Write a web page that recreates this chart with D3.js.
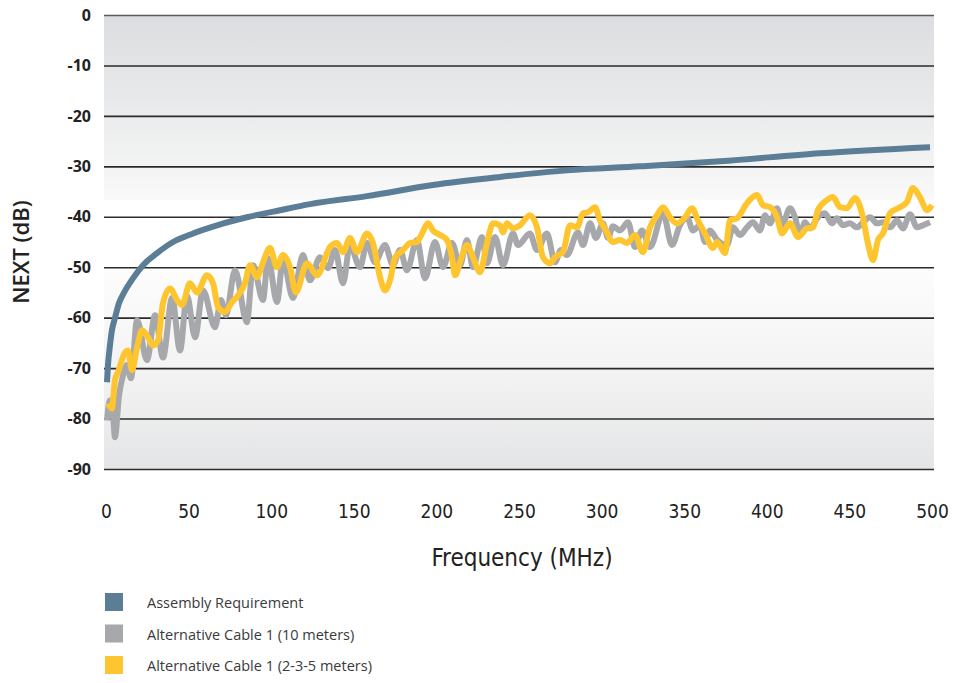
<!DOCTYPE html>
<html>
<head>
<meta charset="utf-8">
<script src="https://cdn.jsdelivr.net/npm/d3@7/dist/d3.min.js"></script>
<style>
  html, body { margin: 0; padding: 0; background: #ffffff; }
  svg { display: block; }
</style>
</head>
<body>
<svg id="chart" width="969" height="683"></svg>
<script>
// Axis ticks
const xTicks = [0, 50, 100, 150, 200, 250, 300, 350, 400, 450, 500];
const yTicks = [0, -10, -20, -30, -40, -50, -60, -70, -80, -90];

// Series names (legend order)
const seriesNames = [
  "Assembly Requirement",
  "Alternative Cable 1 (10 meters)",
  "Alternative Cable 1 (2-3-5 meters)"
];

// Assembly requirement limit (MHz, dB)
const reqFreq = [0.6, 1.2, 2.4, 3.6, 5.4, 7.9, 10.3, 16.3, 22.4, 30.9, 40.6, 52.7, 67.2, 85.3,
  105.3, 123.5, 158.0, 197.9, 238.5, 279.0, 323.2, 371.7, 432.2, 498.8];
const reqNext = [-72.8, -69.4, -65.5, -62.5, -60.1, -57.1, -55.4, -52.2, -49.6, -47.2, -45.0, -43.3, -41.7, -40.1,
  -38.7, -37.5, -35.9, -33.7, -32.1, -30.8, -30.0, -29.0, -27.4, -26.2];

// Alternative cable 1, 10 m
const cable10Freq = [0.6, 2.4, 4.2, 5.4, 7.9, 10.3, 12.7, 15.1, 18.8, 24.8, 29.7, 34.5, 40.0, 44.8, 49.0, 53.9,
  58.7, 66.0, 69.6, 72.6, 78.1, 85.3, 89.0, 95.0, 98.1, 103.5, 107.1, 113.2, 119.2, 123.5, 129.5, 134.4,
  138.6, 143.5, 147.7, 153.7, 158.0, 162.8, 168.9, 173.7, 178.0, 182.2, 188.2, 193.1, 199.1, 204.0, 209.4,
  214.3, 218.5, 222.1, 227.6, 230.6, 235.5, 240.3, 246.4, 249.4, 256.6, 260.9, 266.9, 271.8, 275.4, 279.0,
  285.7, 288.7, 293.0, 296.6, 300.8, 303.9, 306.9, 311.1, 316.0, 320.2, 324.4, 329.3, 337.2, 342.6, 347.4,
  351.7, 355.3, 359.5, 362.6, 365.6, 369.9, 375.9, 379.5, 383.8, 388.0, 391.6, 395.9, 398.9, 401.9, 406.2,
  409.2, 414.0, 417.1, 420.1, 423.1, 426.1, 430.9, 435.2, 439.4, 442.4, 446.1, 450.3, 454.6, 458.2, 462.5,
  466.7, 470.3, 474.6, 478.8, 482.4, 486.7, 490.9, 494.5, 498.8];
const cable10Next = [-80.4, -76.4, -78.8, -83.7, -75.4, -71.4, -69.4, -72.0, -60.5, -68.4, -59.5, -67.9, -56.1, -66.5, -55.6, -63.9,
  -54.6, -61.9, -56.5, -59.5, -50.6, -60.9, -49.6, -56.5, -48.2, -56.9, -48.6, -56.1, -47.6, -52.6, -48.0, -50.2,
  -46.6, -53.2, -45.6, -50.0, -45.2, -49.0, -45.6, -49.6, -46.6, -50.6, -44.6, -52.2, -45.0, -50.0, -45.2,
  -49.6, -44.6, -50.0, -44.0, -49.2, -44.0, -49.6, -43.3, -45.6, -43.3, -46.6, -43.3, -49.0, -46.6, -47.6,
  -43.1, -45.6, -41.3, -44.2, -41.3, -44.2, -41.9, -42.7, -41.1, -46.0, -42.7, -46.0, -39.3, -45.6, -41.7,
  -40.1, -42.7, -41.7, -45.0, -42.7, -44.6, -45.6, -42.1, -43.6, -42.1, -41.1, -42.7, -39.7, -41.3, -38.3,
  -41.7, -38.3, -40.1, -43.6, -41.1, -42.3, -40.1, -39.3, -41.3, -40.3, -41.7, -41.3, -42.1, -41.1, -40.1,
  -41.3, -41.1, -42.1, -40.7, -42.3, -39.5, -42.1, -41.7, -41.1];

// Alternative cable 1, 2-3-5 m
const cable235Freq = [1.2, 3.6, 5.4, 7.3, 11.5, 13.3, 15.7, 18.8, 21.8, 25.4, 28.4, 31.5, 34.5, 38.7, 43.0, 46.0,
  50.8, 55.1, 61.1, 64.8, 67.8, 72.0, 76.3, 79.9, 84.1, 87.2, 91.4, 94.4, 99.3, 103.5, 107.1, 111.4, 114.9,
  121.7, 127.7, 135.6, 139.8, 143.5, 147.7, 151.9, 158.0, 161.6, 165.9, 168.9, 171.9, 174.9, 179.8, 184.0,
  188.2, 191.3, 194.9, 197.9, 202.2, 206.4, 209.4, 211.3, 214.3, 218.5, 222.1, 226.4, 230.6, 234.3, 238.5,
  240.3, 242.7, 246.4, 250.6, 256.6, 260.9, 264.5, 268.8, 271.8, 276.6, 280.9, 285.1, 288.7, 291.8, 296.0,
  299.0, 302.0, 306.9, 311.1, 315.4, 320.2, 325.0, 329.3, 333.5, 337.2, 341.4, 345.6, 350.5, 354.7, 358.3,
  362.6, 367.4, 369.9, 374.7, 377.7, 381.9, 388.0, 394.1, 397.7, 401.9, 406.2, 409.2, 414.0, 418.9, 424.3,
  427.9, 430.9, 436.4, 440.0, 444.3, 448.5, 453.4, 457.6, 461.2, 464.3, 467.3, 470.3, 474.6, 479.4, 484.8,
  488.5, 492.7, 497.0, 500.0];
const cable235Next = [-77.0, -78.0, -72.4, -70.8, -66.9, -66.5, -70.4, -65.9, -62.5, -63.9, -65.5, -64.5, -57.1, -54.2, -56.5, -57.5,
  -53.2, -55.0, -51.6, -53.2, -57.9, -58.9, -56.9, -55.6, -53.2, -49.6, -52.0, -49.6, -46.2, -50.0, -47.6, -50.0, -55.0,
  -49.2, -51.6, -46.0, -45.2, -47.0, -44.2, -47.0, -43.3, -45.2, -52.0, -54.6, -52.6, -48.2, -46.6, -45.2,
  -45.0, -43.3, -41.3, -42.7, -43.6, -44.6, -48.0, -51.6, -49.0, -45.6, -48.0, -51.0, -45.2, -41.3, -41.7,
  -43.1, -41.3, -42.3, -41.7, -39.7, -42.1, -48.0, -49.2, -48.0, -47.0, -41.7, -42.1, -39.3, -39.1, -38.1,
  -40.7, -42.3, -45.0, -44.6, -45.2, -43.6, -47.0, -42.1, -39.7, -38.1, -40.1, -41.3, -40.1, -38.3, -40.7,
  -43.3, -46.2, -45.0, -47.2, -40.7, -40.3, -37.3, -35.7, -37.7, -38.1, -40.1, -43.3, -41.3, -44.0, -42.3,
  -42.1, -38.7, -36.7, -36.1, -38.1, -38.3, -36.3, -39.3, -45.2, -48.6, -44.6, -43.3, -39.3, -38.3, -37.1,
  -34.3, -36.1, -38.7, -37.7];

const colors = ["#5b7d96", "#a7a8ab", "#fec52e"];

const svg = d3.select("#chart");

const plot = { left: 104, right: 934, top: 15, bottom: 469 };

const x = d3.scaleLinear().domain([0, 500]).range([106, 932]);
const y = d3.scaleLinear().domain([0, -90]).range([plot.top, plot.bottom]);

// Plot background: grey at the top fading to white, then greying again toward the bottom
const defs = svg.append("defs");
const grad = defs.append("linearGradient")
  .attr("id", "bg").attr("x1", 0).attr("y1", 0).attr("x2", 0).attr("y2", 1);
[
  [0, "#dcdde0"], [0.2, "#e9eaeb"], [0.406, "#f9f9f9"], [0.408, "#ffffff"],
  [0.56, "#ffffff"], [0.562, "#fdfdfd"], [0.8, "#f2f2f3"], [1, "#e4e5e6"]
].forEach(([o, c]) => grad.append("stop").attr("offset", o).attr("stop-color", c));

svg.append("rect")
  .attr("x", plot.left).attr("y", plot.top)
  .attr("width", plot.right - plot.left).attr("height", plot.bottom - plot.top)
  .attr("fill", "url(#bg)");

// Horizontal gridlines
const grid = svg.append("g")
  .attr("transform", `translate(${plot.left},0)`)
  .call(d3.axisLeft(y).tickValues(yTicks).tickSize(-(plot.right - plot.left)).tickFormat(""));
grid.select(".domain").remove();
grid.selectAll(".tick line")
  .attr("stroke", (d) => d === 0 ? "#5a5a5a" : "#2b2b2b")
  .attr("stroke-width", 1.6);

// Y axis labels (plain hyphen for negative values)
const yAxis = svg.append("g")
  .attr("transform", `translate(${plot.left},0)`)
  .call(d3.axisLeft(y).tickValues(yTicks).tickSize(0).tickPadding(13).tickFormat((d) => String(d)));
yAxis.select(".domain").remove();
yAxis.selectAll("text")
  .attr("fill", "#222")
  .style("font-family", "'Open Sans', sans-serif")
  .style("font-weight", 700)
  .style("font-size", "16px");

// X axis labels
const xAxis = svg.append("g")
  .attr("transform", `translate(0,${plot.bottom})`)
  .call(d3.axisBottom(x).tickValues(xTicks).tickSize(0).tickPadding(36));
xAxis.select(".domain").remove();
xAxis.selectAll("text")
  .attr("fill", "#222")
  .style("font-family", "'Liberation Sans Narrow', 'DejaVu Sans Condensed', sans-serif")
  .style("font-stretch", "condensed")
  .style("font-size", "19px");

// Axis titles
svg.append("text")
  .attr("x", 522).attr("y", 566)
  .attr("text-anchor", "middle")
  .attr("fill", "#222")
  .style("font-family", "'Liberation Sans Narrow', 'DejaVu Sans Condensed', sans-serif")
  .style("font-stretch", "condensed")
  .style("font-size", "24px")
  .text("Frequency (MHz)");

svg.append("text")
  .attr("transform", "translate(29,252) rotate(-90)")
  .attr("text-anchor", "middle")
  .attr("fill", "#222")
  .style("font-family", "'Open Sans', sans-serif")
  .style("font-weight", 600)
  .style("font-size", "22px")
  .text("NEXT (dB)");

// Lines
const line = d3.line()
  .x((d) => x(d[0]))
  .y((d) => y(d[1]))
  .curve(d3.curveMonotoneX);

const series = [
  { freq: cable10Freq, next: cable10Next, color: colors[1] },
  { freq: cable235Freq, next: cable235Next, color: colors[2] },
  { freq: reqFreq, next: reqNext, color: colors[0] }
];

series.forEach((s) => {
  svg.append("path")
    .datum(d3.zip(s.freq, s.next))
    .attr("fill", "none")
    .attr("stroke", s.color)
    .attr("stroke-width", 6)
    .attr("stroke-linejoin", "round")
    .attr("stroke-linecap", "butt")
    .attr("d", line);
});

// Legend
const legend = svg.append("g").attr("transform", "translate(105,593)");
seriesNames.forEach((name, i) => {
  const g = legend.append("g").attr("transform", `translate(0,${i * 31.5})`);
  g.append("rect").attr("width", 18).attr("height", 18).attr("fill", colors[i]);
  g.append("text")
    .attr("x", 42).attr("y", 15)
    .attr("fill", "#3a3a3a")
    .style("font-family", "'Open Sans', sans-serif")
    .style("font-size", "14.5px")
    .text(name);
});
</script>
</body>
</html>
